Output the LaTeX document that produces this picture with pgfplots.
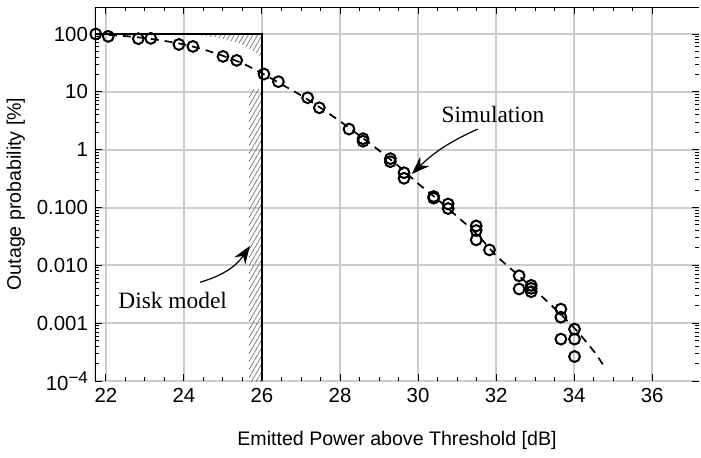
\documentclass[border=0pt]{standalone}
\usepackage{fontspec}
\setmainfont{Liberation Sans}
\newfontfamily\serif{Liberation Serif}
\usepackage{pgfplots}
\pgfplotsset{compat=1.18}
\usetikzlibrary{patterns.meta,arrows.meta}

\begin{document}
\begin{tikzpicture}
\begin{axis}[
  scale only axis, width=302pt, height=187pt,
  ymode=log,
  xmin=21.72, xmax=37.2, ymin=1e-4, ymax=293,
  xtick={22,24,...,36}, minor x tick num=3,
  ytick={1e-4,1e-3,1e-2,1e-1,1,10,100},
  yticklabels={10\raisebox{3.5pt}{\fontsize{8.5}{9}\selectfont −4},0.001,0.010,0.100,1,10,100},
  /pgf/number format/assume math mode=true,
  ticklabel style={font=\fontsize{10.2}{12}\selectfont},
  grid=major,
  major grid style={black!20, line width=1pt},
  tick style={black, line width=0.5pt},
  tick align=inside,
  major tick length=3.5pt, minor tick length=2pt,
  axis line style={draw=none},
  xlabel={Emitted Power above Threshold [dB]},
  ylabel={Outage probability [\%]},
  label style={font=\fontsize{9.8}{12}\selectfont},
  xlabel style={at={(axis description cs:0.5,-0.16)}, anchor=center},
  ylabel style={at={(axis description cs:-0.131,0.5)}, anchor=center},
]
% shaded areas of the disk model
\addplot[draw=none, pattern={Lines[angle=60,distance=2pt,line width=0.35pt]}, pattern color=black!55]
  coordinates {(24.1,100) (24.8,88) (25.4,70) (25.8,50) (26,39) (26,100)} -- cycle;
\addplot[draw=none, pattern={Lines[angle=60,distance=2pt,line width=0.35pt]}, pattern color=black!55]
  coordinates {(25.67,1e-4) (25.67,11) (26,11) (26,1e-4)} -- cycle;

% disk model step
\addplot[black, line width=0.8pt] coordinates {(21.72,100) (26,100) (26,1e-4)};

% fitted curve
\addplot[black, line width=0.85pt, dash pattern=on 4pt off 3pt, smooth] coordinates {
  (21.72,100) (22,97) (22.5,92) (23,85) (23.5,76) (24,66) (24.5,54) (25,42)
  (25.5,31) (26,21) (26.5,13.5) (27,8.7) (27.5,5.3) (28,3.1) (28.5,1.75)
  (29,0.97) (29.5,0.52) (30,0.26) (30.5,0.138) (31,0.07) (31.5,0.035)
  (32,0.0148) (32.5,0.0074) (33,0.0037) (33.5,0.0018) (34,0.00083)
  (34.5,0.00033) (34.77,0.000178)
};

% simulation points
\addplot[only marks, mark=o, mark size=2.7pt, line width=1pt, black] table {
x y
21.74 100
22.06 91
22.83 83
23.15 84
23.87 66
24.23 61
25.00 41
25.35 35
26.05 20.3
26.42 15
27.17 7.9
27.47 5.3
28.23 2.27
28.59 1.55
28.59 1.40
29.29 0.70
29.29 0.62
29.64 0.40
29.64 0.32
30.40 0.155
30.40 0.145
30.77 0.115
30.77 0.096
31.49 0.048
31.49 0.040
31.49 0.0276
31.83 0.0185
32.59 0.0066
32.59 0.0039
32.90 0.0045
32.90 0.0040
32.90 0.0035
33.66 0.00175
33.66 0.00127
33.66 0.00053
34.01 0.00079
34.01 0.00053
34.01 0.000265
};

\draw[black, line width=0.6pt] (rel axis cs:0,0) -- (rel axis cs:0,1) -- (rel axis cs:1,1);

\node[font=\serif\fontsize{11.7}{14}\selectfont] at (axis cs:31.92,4.13) {Simulation};
\node[font=\serif\fontsize{11.7}{14}\selectfont] at (axis cs:23.71,0.0025) {Disk model};
\draw[-{Stealth[length=9pt,width=6.5pt]}, line width=0.6pt] (axis cs:31.53,2.27) to[bend right=10] (axis cs:29.84,0.38);
\draw[-{Stealth[length=9pt,width=6.5pt]}, line width=0.6pt] (axis cs:24.41,0.0051) to[bend right=20] (axis cs:25.69,0.0217);
\end{axis}
\pgfresetboundingbox
\path ([shift={(-47.5pt,-38pt)}]current axis.south west) rectangle ([shift={(1pt,3.5pt)}]current axis.north east);
\end{tikzpicture}
\end{document}
